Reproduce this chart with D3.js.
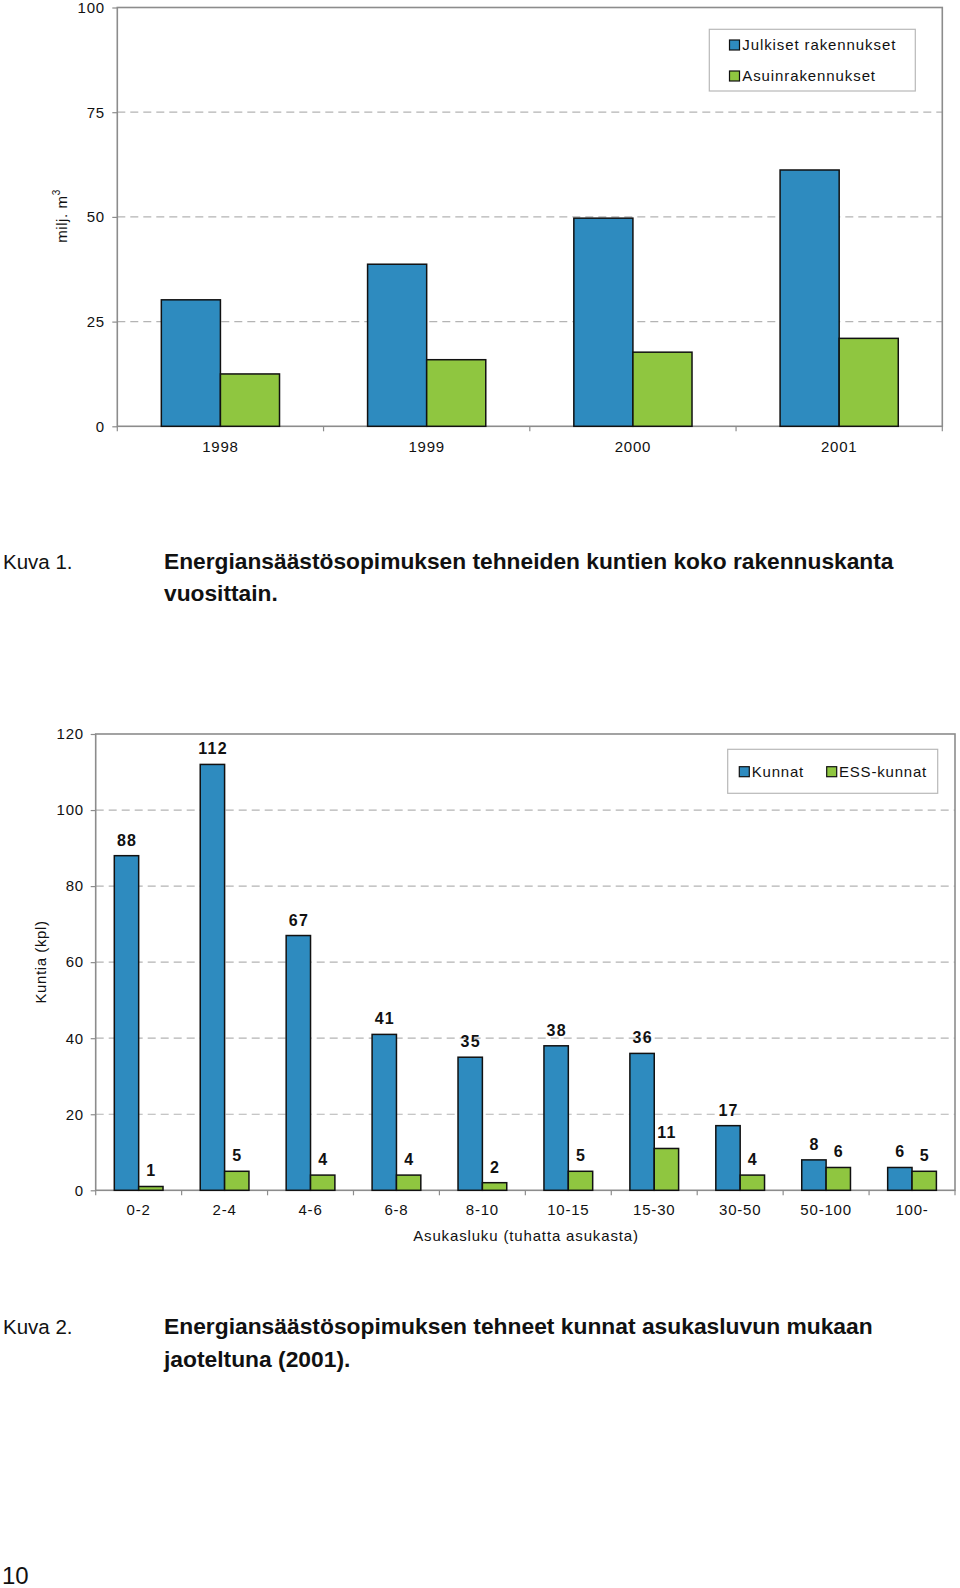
<!DOCTYPE html>
<html><head><meta charset="utf-8">
<script src="https://cdn.jsdelivr.net/npm/d3@7"></script>
<style>
body{margin:0;background:#fff}
svg{display:block}
text{font-family:"Liberation Sans",Arial,Helvetica,sans-serif;fill:#111}
</style>
</head><body>
<svg id="page" width="960" height="1588"></svg>
<script>
// ---------- Data: chart 1 ----------
const years = ["1998", "1999", "2000", "2001"];
const series1 = ["Julkiset rakennukset", "Asuinrakennukset"];
const julkiset = [30.2, 38.7, 49.7, 61.2];
const asuin = [12.5, 15.9, 17.7, 21.0];
const ticks1 = [0, 25, 50, 75, 100];

// ---------- Data: chart 2 ----------
const sizeClasses = ["0-2", "2-4", "4-6", "6-8", "8-10", "10-15", "15-30", "30-50", "50-100", "100-"];
const series2 = ["Kunnat", "ESS-kunnat"];
const kunnat = [88, 112, 67, 41, 35, 38, 36, 17, 8, 6];
const essKunnat = [1, 5, 4, 4, 2, 5, 11, 4, 6, 5];
const ticks2 = [0, 20, 40, 60, 80, 100, 120];

const colors = ["#2e8bbf", "#8fc640"];
const svg = d3.select("#page");

function barChart(cfg) {
  const g = svg.append("g");
  const x = d3.scaleBand().domain(cfg.cats).range([cfg.x0, cfg.x1]);
  const bw = x.bandwidth();
  const xs = d3.scaleBand().domain(cfg.keys).range([bw * cfg.inner[0], bw * cfg.inner[1]]);
  const y = d3.scaleLinear().domain([0, d3.max(cfg.ticks)]).range([cfg.yBot, cfg.yTop]);

  // grid
  g.selectAll("line.grid").data(cfg.ticks.slice(1, -1)).join("line")
    .attr("x1", cfg.x0).attr("x2", cfg.x1)
    .attr("y1", d => y(d)).attr("y2", d => y(d))
    .attr("stroke", "#b4b4b4").attr("stroke-width", 1.2).attr("stroke-dasharray", "8,5");

  // plot border
  g.append("rect").attr("x", cfg.x0).attr("y", cfg.yTop)
    .attr("width", cfg.x1 - cfg.x0).attr("height", cfg.yBot - cfg.yTop)
    .attr("fill", "none").attr("stroke", "#8c8c8c").attr("stroke-width", 1.6);

  // y axis
  const ya = g.append("g").attr("transform", `translate(${cfg.x0},0)`)
    .call(d3.axisLeft(y).tickValues(cfg.ticks).tickSize(5).tickPadding(cfg.yPad));
  ya.select(".domain").remove();
  ya.selectAll(".tick line").attr("stroke", "#8c8c8c").attr("stroke-width", 1.2);
  ya.selectAll(".tick text").attr("font-size", 15).attr("letter-spacing", "0.8px")
    .attr("font-family", "Liberation Sans, Arial, sans-serif").attr("fill", "#111");

  // x axis labels
  const xa = g.append("g").attr("transform", `translate(0,${cfg.yBot})`)
    .call(d3.axisBottom(x).tickSize(0).tickPadding(cfg.xPad));
  xa.select(".domain").remove();
  xa.selectAll(".tick text").attr("font-size", 15).attr("letter-spacing", "0.8px")
    .attr("font-family", "Liberation Sans, Arial, sans-serif").attr("fill", "#111");
  // boundary ticks
  const bounds = cfg.cats.map(c => x(c)).concat([cfg.x1]);
  g.selectAll("line.xt").data(bounds).join("line")
    .attr("x1", d => d).attr("x2", d => d)
    .attr("y1", cfg.yBot).attr("y2", cfg.yBot + 5)
    .attr("stroke", "#8c8c8c").attr("stroke-width", 1.2);

  // bars
  const data = [];
  cfg.cats.forEach((c, i) => cfg.keys.forEach((k, j) => data.push({c, k, j, v: cfg.values[j][i]})));
  g.selectAll("rect.bar").data(data).join("rect")
    .attr("x", d => x(d.c) + xs(d.k))
    .attr("y", d => y(d.v))
    .attr("width", xs.bandwidth())
    .attr("height", d => y(0) - y(d.v))
    .attr("fill", d => colors[d.j])
    .attr("stroke", "#111").attr("stroke-width", 1.5);

  if (cfg.labels) {
    g.selectAll("text.lbl").data(data).join("text")
      .attr("x", d => x(d.c) + xs(d.k) + xs.bandwidth() / 2 + 0.6)
      .attr("y", d => y(d.v) - 10)
      .attr("text-anchor", "middle")
      .attr("font-size", 16).attr("font-weight", "bold").attr("letter-spacing", "1.3px")
      .text(d => d.v);
  }
  return {g, x, y};
}

// ---------- Chart 1 ----------
barChart({
  cats: years, keys: series1, values: [julkiset, asuin], ticks: ticks1,
  x0: 117.3, x1: 942.3, yTop: 7.5, yBot: 426.3, inner: [0.2135, 0.7865],
  yPad: 7.3, xPad: 15.3, labels: false
});
// y title
const yt1 = svg.append("text").attr("transform", "translate(67,216) rotate(-90)")
  .attr("text-anchor", "middle").attr("font-size", 15).attr("letter-spacing", "0.6px");
yt1.append("tspan").text("milj. m");
yt1.append("tspan").attr("dy", -7).attr("font-size", 10).text("3");

// legend 1
const lg1 = svg.append("g");
lg1.append("rect").attr("x", 709.3).attr("y", 29.3).attr("width", 206).attr("height", 61.7)
  .attr("fill", "#fff").attr("stroke", "#b8b8b8").attr("stroke-width", 1.2);
series1.forEach((s, i) => {
  const cy = [45, 76][i];
  lg1.append("rect").attr("x", 729.5).attr("y", cy - 5).attr("width", 10).attr("height", 10)
    .attr("fill", colors[i]).attr("stroke", "#111").attr("stroke-width", 1.2);
  lg1.append("text").attr("x", 742.3).attr("y", cy + 5.3).attr("font-size", 15)
    .attr("letter-spacing", "0.9px").text(s);
});

// ---------- Chart 2 ----------
barChart({
  cats: sizeClasses, keys: series2, values: [kunnat, essKunnat], ticks: ticks2,
  x0: 95.7, x1: 955, yTop: 734, yBot: 1190.3, inner: [0.2165, 0.7835],
  yPad: 6.7, xPad: 14.4, labels: true
});
svg.append("text").attr("transform", "translate(46,962) rotate(-90)")
  .attr("text-anchor", "middle").attr("font-size", 15).attr("letter-spacing", "0.6px")
  .text("Kuntia (kpl)");
svg.append("text").attr("x", 526).attr("y", 1241).attr("text-anchor", "middle")
  .attr("font-size", 15).attr("letter-spacing", "0.85px").text("Asukasluku (tuhatta asukasta)");

// legend 2
const lg2 = svg.append("g");
lg2.append("rect").attr("x", 727.7).attr("y", 749.3).attr("width", 210).attr("height", 44)
  .attr("fill", "#fff").attr("stroke", "#b8b8b8").attr("stroke-width", 1.2);
series2.forEach((s, i) => {
  const sx = [739.3, 826.7][i], tx = [751.7, 839][i];
  lg2.append("rect").attr("x", sx).attr("y", 766.7).attr("width", 10).attr("height", 10)
    .attr("fill", colors[i]).attr("stroke", "#111").attr("stroke-width", 1.2);
  lg2.append("text").attr("x", tx).attr("y", 777).attr("font-size", 15)
    .attr("letter-spacing", "0.8px").text(s);
});

// ---------- Captions ----------
function caption(label, lines, y0, targetW) {
  const g = svg.append("g");
  g.append("text").attr("x", 3).attr("y", y0).attr("font-size", 20.5).attr("fill", "#222").text(label);
  const t = g.selectAll("text.b").data(lines).join("text")
    .attr("x", 164).attr("y", (d, i) => y0 + i * 32.5)
    .attr("font-size", 19).attr("font-weight", "bold").text(d => d);
  const w = t.node().getComputedTextLength();
  t.attr("font-size", 19 * targetW / w);
}
caption("Kuva 1.", ["Energiansäästösopimuksen tehneiden kuntien koko rakennuskanta", "vuosittain."], 568.5, 730);
caption("Kuva 2.", ["Energiansäästösopimuksen tehneet kunnat asukasluvun mukaan", "jaoteltuna (2001)."], 1334, 709);

svg.append("text").attr("x", 2).attr("y", 1584).attr("font-size", 24).attr("fill", "#222").text("10");
</script>
</body></html>
